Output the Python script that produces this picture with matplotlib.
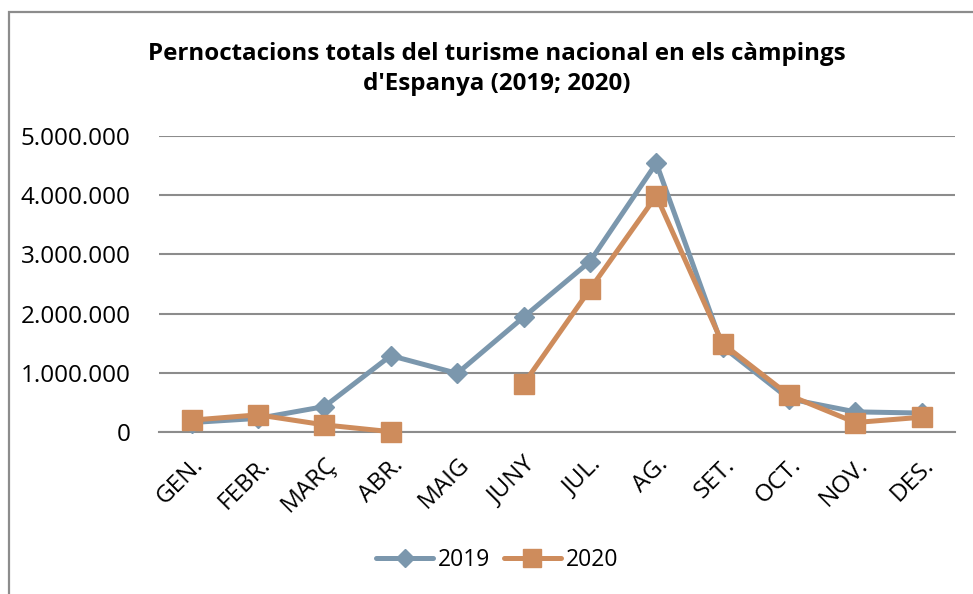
import matplotlib
matplotlib.use("Agg")
import matplotlib.pyplot as plt
import numpy as np
from matplotlib.ticker import FuncFormatter

months = ["GEN.", "FEBR.", "MARÇ", "ABR.", "MAIG", "JUNY", "JUL.", "AG.", "SET.", "OCT.", "NOV.", "DES."]
v2019 = [160000, 230000, 430000, 1290000, 990000, 1940000, 2880000, 4540000, 1440000, 560000, 340000, 320000]
v2020 = [200000, 290000, 120000, 5000, None, 810000, 2410000, 3990000, 1490000, 620000, 160000, 250000]
yticks = [0, 1000000, 2000000, 3000000, 4000000, 5000000]

plt.rcParams['font.family'] = ['Open Sans', 'DejaVu Sans']

W, H = 973, 594
fig = plt.figure(figsize=(W/100, H/100), dpi=100)
ax = fig.add_axes([158.5/W, 1-432/H, (955-158.5)/W, (432-136)/H])

x = np.arange(len(months))
y20 = np.array([np.nan if v is None else v for v in v2020], dtype=float)

c19 = '#7B97AD'
c20 = '#CE8C5C'
ax.plot(x, v2019, color=c19, lw=3.6, marker='D', ms=10.5, label='2019', zorder=3,
        solid_capstyle='round', solid_joinstyle='round')
ax.plot(x, y20, color=c20, lw=3.6, marker='s', ms=14, label='2020', zorder=4,
        solid_capstyle='round', solid_joinstyle='round')

ax.set_xlim(-0.5, len(months)-0.5)
ax.set_ylim(0, 5000000)
ax.set_yticks(yticks)
ax.yaxis.set_major_formatter(FuncFormatter(lambda v, p: f"{int(v):,}".replace(",", ".")))
ax.grid(axis='y', color='#8C8C8C', lw=1.5)
ax.set_axisbelow(True)
for s in ['top', 'right', 'left']:
    ax.spines[s].set_visible(False)
ax.spines['bottom'].set_color('#8C8C8C')
ax.spines['bottom'].set_linewidth(1.5)
ax.tick_params(axis='y', length=0, labelsize=17.5, pad=20)
ax.tick_params(axis='x', length=0, labelsize=17.5, pad=15)
ax.set_xticks(x)
ax.set_xticklabels(months, rotation=45, ha='right', rotation_mode='anchor')
for l in ax.lines:
    l.set_clip_on(False)

fig.text(497/W, 1-69/H, "Pernoctacions totals del turisme nacional en els càmpings\nd'Espanya (2019; 2020)",
         ha='center', va='center', fontsize=17.4, fontweight='bold', linespacing=1.35)

leg = fig.legend(loc='center', bbox_to_anchor=(497/W, 1-560/H), ncol=2, frameon=False,
                 fontsize=16.5, handlelength=2.5, columnspacing=0.6, handletextpad=0.2, markerscale=0.9)

fig.patches.append(plt.Rectangle((8.5/W, -0.1), 1.2, 1.1 - 11.5/H, transform=fig.transFigure,
                                 fill=False, edgecolor='#8C8C8C', lw=1.6, clip_on=True))
fig.savefig("out.png", dpi=100)
